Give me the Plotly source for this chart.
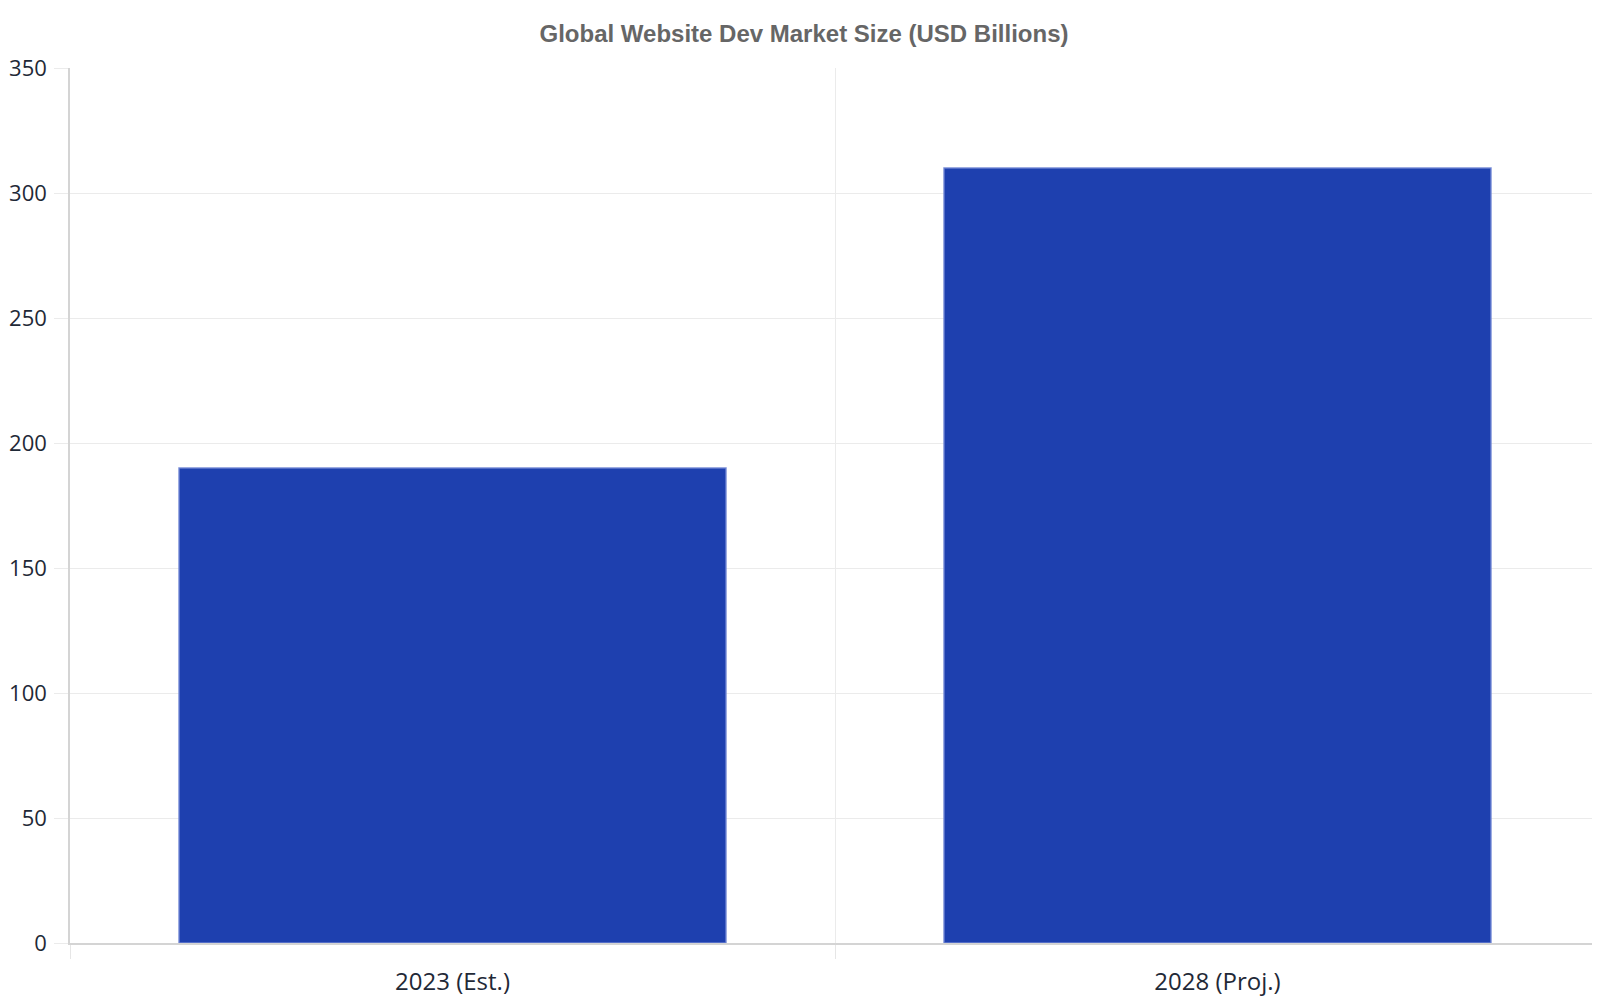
import plotly.graph_objects as go

categories = ["2023 (Est.)", "2028 (Proj.)"]
values = [190, 310]
title_text = "Global Website Dev Market Size (USD Billions)"

fig = go.Figure()
fig.add_trace(go.Bar(
    x=categories,
    y=values,
    width=0.715,
    marker=dict(color="#1e40af", line=dict(color="rgba(110,132,212,0.9)", width=1.5)),
    hoverinfo="x+y",
))

fig.update_layout(
    width=1592,
    height=992,
    paper_bgcolor="white",
    plot_bgcolor="white",
    margin=dict(l=62, r=0, t=60, b=57),
    title=dict(
        text="<b>" + title_text + "</b>",
        x=0.5,
        xanchor="center",
        y=1 - 26 / 992,
        yanchor="middle",
        font=dict(family="Liberation Sans, Arial, sans-serif", size=24, color="#666666"),
    ),
    showlegend=False,
)

fig.update_xaxes(
    type="category",
    tickson="boundaries",
    ticks="outside",
    ticklen=14,
    tickcolor="#e6e6e6",
    showgrid=True,
    gridcolor="#ebebeb",
    gridwidth=1,
    showline=True,
    linecolor="#d4d4d4",
    linewidth=1.5,
    automargin=False,
    ticklabelstandoff=16,
    tickfont=dict(family="Open Sans, Noto Sans, sans-serif", size=24, color="#1f2937"),
    zeroline=False,
)

fig.update_yaxes(
    range=[0, 350],
    dtick=50,
    ticks="outside",
    ticklen=14,
    tickcolor="#ebebeb",
    showgrid=True,
    gridcolor="#ebebeb",
    gridwidth=1,
    showline=True,
    linecolor="#d4d4d4",
    linewidth=1.5,
    zeroline=False,
    automargin=False,
    ticklabelstandoff=3,
    tickfont=dict(family="Open Sans, Noto Sans, sans-serif", size=22, color="#1f2937"),
)

fig.write_html("out.html")
